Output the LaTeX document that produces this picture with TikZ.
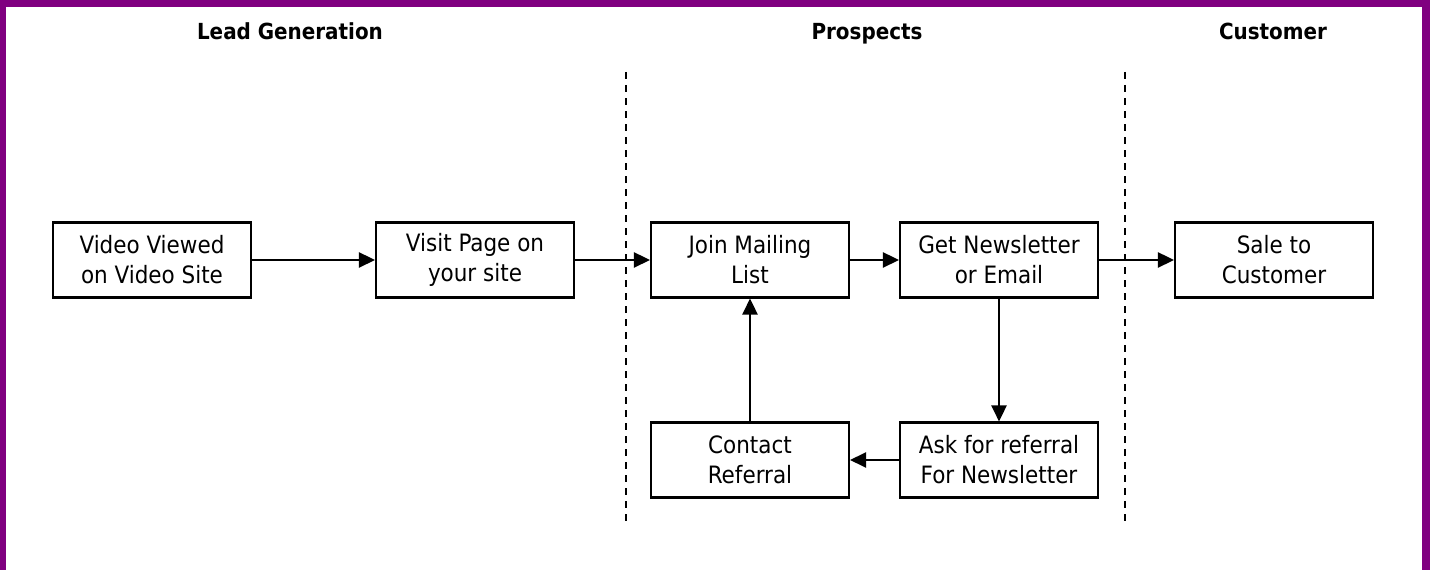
\documentclass[tikz,border=0pt]{standalone}
\usepackage{fontspec}
\setmainfont{DejaVu Sans Condensed}
\usetikzlibrary{arrows.meta}
\definecolor{cornice}{RGB}{128,0,128}
\begin{document}
\begin{tikzpicture}[>={Triangle[length=0.32cm, width=0.3cm]},
    box/.style={draw, line width=1.2pt, minimum width=3.96cm, minimum height=1.5cm,
        align=center, font=\fontsize{13.6}{17}\selectfont},
    titolo/.style={anchor=base, font=\fontsize{12.6}{15}\selectfont\bfseries},
    flow/.style={->, line width=1.5pt}]
    \useasboundingbox (0,0) rectangle (28.6,11.4);

    % Cornice
    \fill[cornice] (0,11.26) rectangle (28.6,11.4);
    \fill[cornice] (0,0) rectangle (0.12,11.4);
    \fill[cornice] (28.44,0) rectangle (28.6,11.4);

    % Titoli
    \node[titolo] (tlead) at (5.8,10.6) {Lead Generation};
    \node[titolo] (tprosp) at (17.34,10.6) {Prospects};
    \node[titolo] (tcust) at (25.46,10.6) {Customer};

    % Linee tratteggiate
    \draw[line width=0.8pt, dash pattern=on 4pt off 3.4pt] (12.52,9.96) -- (12.52,0.96);
    \draw[line width=0.8pt, dash pattern=on 4pt off 3.4pt] (22.5,9.96) -- (22.5,0.96);

    % Riquadri
    \node[box] (video) at (3.04,6.2) {Video Viewed\\on Video Site};
    \node[box] (visit) at (9.5,6.2) {Visit Page on\\your site};
    \node[box] (join) at (15.0,6.2) {Join Mailing\\List};
    \node[box] (news) at (19.98,6.2) {Get Newsletter\\or Email};
    \node[box] (sale) at (25.48,6.2) {Sale to\\Customer};
    \node[box] (contact) at (15.0,2.2) {Contact\\Referral};
    \node[box] (ask) at (19.98,2.2) {Ask for referral\\For Newsletter};

    % Frecce
    \draw[flow] (video) -- (visit);
    \draw[flow] (visit) -- (join);
    \draw[flow] (join) -- (news);
    \draw[flow] (news) -- (sale);
    \draw[flow] (news) -- (ask);
    \draw[flow] (ask) -- (contact);
    \draw[flow] (contact) -- (join);
\end{tikzpicture}
\end{document}
